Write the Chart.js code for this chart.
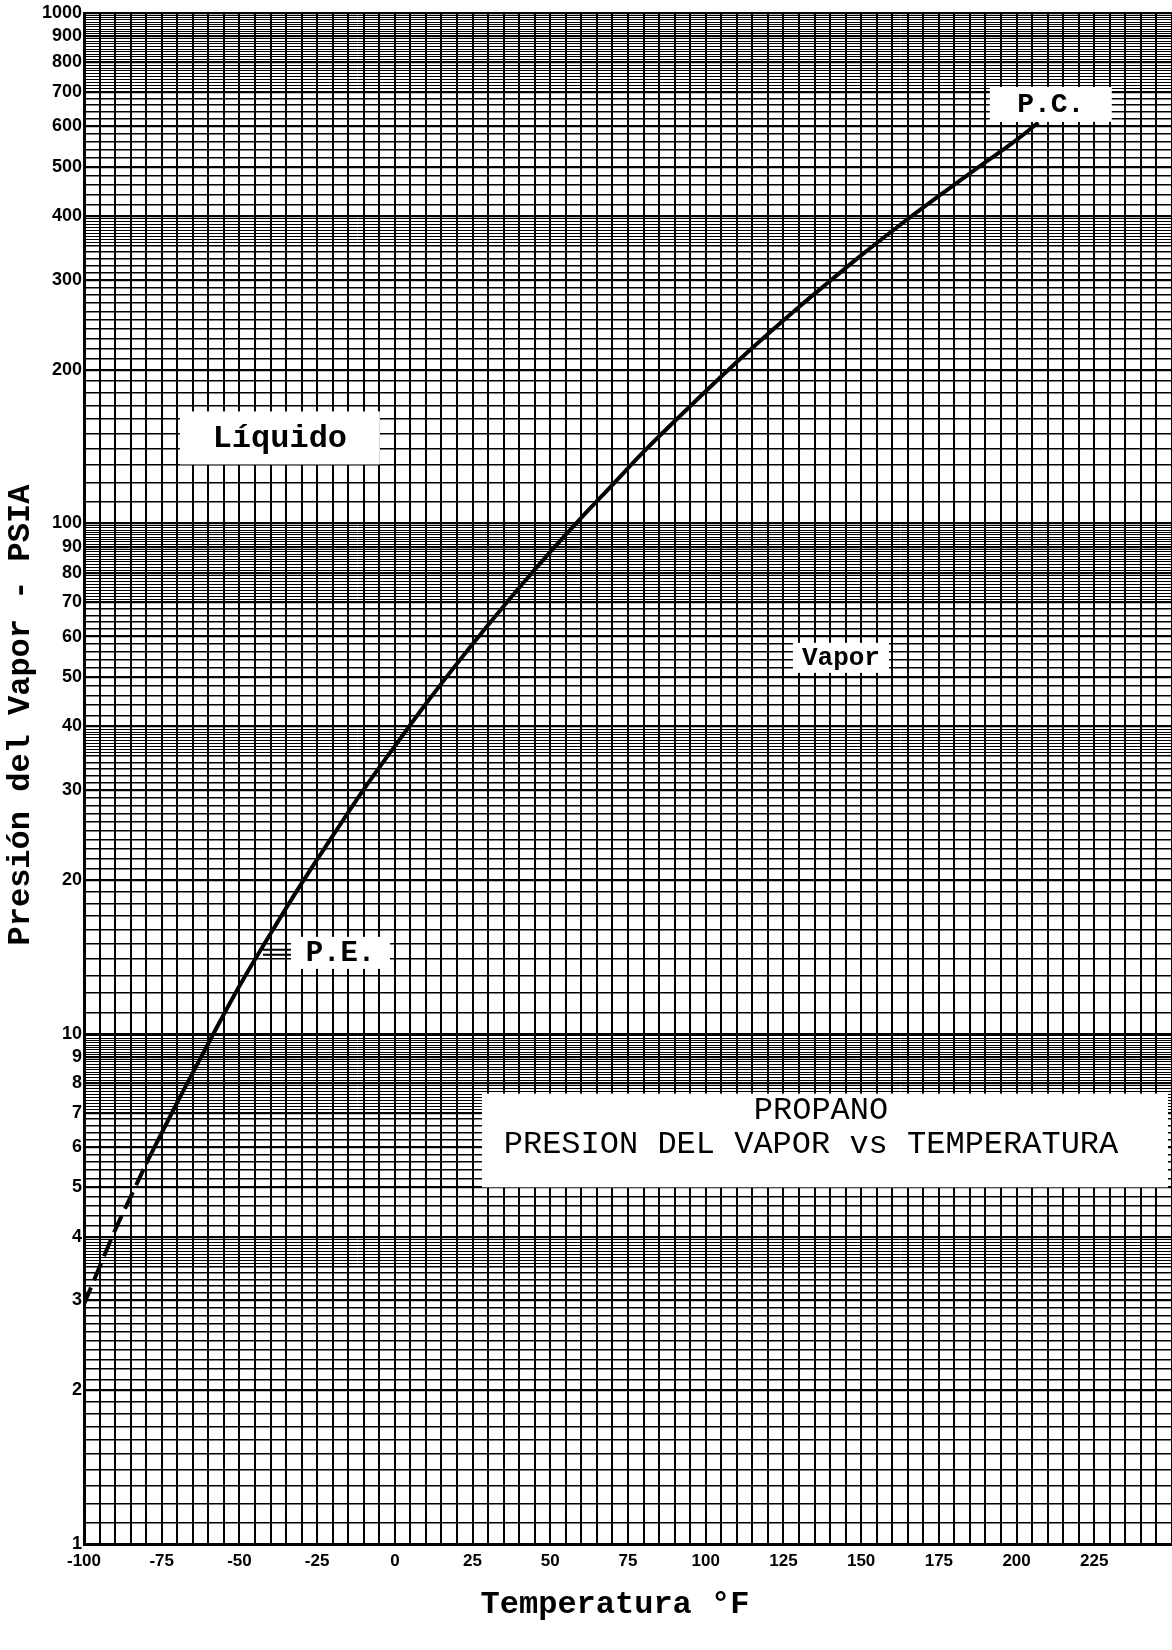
<!DOCTYPE html>
<html>
<head>
<meta charset="utf-8">
<style>
html,body{margin:0;padding:0;background:#fff}
canvas{display:block}
</style>
<script src="https://cdn.jsdelivr.net/npm/chart.js@4.4.1/dist/chart.umd.min.js"></script>
</head>
<body>
<canvas id="c" width="1172" height="1650"></canvas>
<script>
// ---- Data (°F, psia) ----
const tempsSolid = [-80,-70,-60,-50,-40,-30,-20,-10,0,10,20,30,40,50,60,70,80,90,100,110,120,130,140,150,160,170,180,190,200,207];
const pressSolid = [5.56,7.33,9.57,12.4,15.7,19.7,24.4,30.1,36.6,44.3,53.1,63.2,74.8,87.9,102.6,119,138,158.5,181.5,207,235,265.5,298.5,335,374,416,461,510,564,610];
const tempsDashed = [-100,-95,-90,-85,-80];
const pressDashed = [2.95,3.49,4.12,4.79,5.56];

const xTickLabels = [-100,-75,-50,-25,0,25,50,75,100,125,150,175,200,225];
const yTickLabels = [1,2,3,4,5,6,7,8,9,10,20,30,40,50,60,70,80,90,100,200,300,400,500,600,700,800,900,1000];
const xGridValues = [];
for (let t = -100; t <= 250; t += 5) xGridValues.push(t);
// graph-paper subdivisions of each decade: [from, to, step]
const decadeSegments = [[1,3.5,0.1],[3.5,4,0.05],[4,7,0.2],[7,10,0.1]];
const decades = [1,10,100];
const yGridValues = [];
decades.forEach(d => {
  decadeSegments.forEach(([a,b,s]) => {
    const n = Math.round((b-a)/s);
    for (let i = 0; i < n; i++) {
      const m = Math.round((a + i*s)*1000)/1000;
      yGridValues.push(Math.round(m*d*1000)/1000);
    }
  });
});
yGridValues.push(1000);

const toXY = (ts, ps) => ts.map((t,i) => ({x:t, y:ps[i]}));
const mantissa = v => v / Math.pow(10, Math.floor(Math.log10(v) + 1e-9));

const MONO = '"Liberation Mono", "DejaVu Sans Mono", monospace';

const labelBoxes = [
  {text:'P.C.', t:211, p:662, w:122, h:35, font:'bold 28px '+MONO},
  {text:'Líquido', t:-37, p:147, w:200, h:53, font:'bold 32px '+MONO},
  {text:'Vapor', t:143.5, p:54.5, w:96, h:30, font:'bold 26px '+MONO},
  {text:'P.E.', t:-17.5, p:14.4, w:99, h:32, font:'bold 29px '+MONO}
];

const annotPlugin = {
  id: 'annot',
  afterDatasetsDraw(chart) {
    const {ctx, scales:{x, y}, chartArea} = chart;
    ctx.save();
    // P.E. leader lines
    const pe = labelBoxes[3];
    const peY = y.getPixelForValue(pe.p);
    const peX = x.getPixelForValue(pe.t) - pe.w/2;
    ctx.strokeStyle = '#000';
    ctx.lineWidth = 2;
    ctx.beginPath();
    ctx.moveTo(peX - 28, peY - 3); ctx.lineTo(peX, peY - 3);
    ctx.moveTo(peX - 28, peY + 2); ctx.lineTo(peX, peY + 2);
    ctx.stroke();

    labelBoxes.forEach(b => {
      const cx = x.getPixelForValue(b.t);
      const cy = y.getPixelForValue(b.p);
      ctx.fillStyle = '#fff';
      ctx.fillRect(cx - b.w/2, cy - b.h/2, b.w, b.h);
      ctx.fillStyle = '#000';
      ctx.font = b.font;
      ctx.textAlign = 'center';
      ctx.textBaseline = 'middle';
      ctx.fillText(b.text, cx, cy + 1);
    });

    // title box
    const tx0 = x.getPixelForValue(28), tx1 = chartArea.right - 4;
    const ty0 = y.getPixelForValue(7.63), ty1 = y.getPixelForValue(5.0);
    ctx.fillStyle = '#fff';
    ctx.fillRect(tx0, ty0, tx1 - tx0, ty1 - ty0);
    ctx.fillStyle = '#000';
    ctx.font = '32px ' + MONO;
    ctx.textAlign = 'center';
    ctx.textBaseline = 'middle';
    ctx.fillText('PROPANO', 821, ty0 + 17);
    ctx.fillText('PRESION DEL VAPOR vs TEMPERATURA', 811, ty0 + 51);

    // axis titles
    ctx.font = 'bold 32px ' + MONO;
    ctx.fillText('Temperatura °F', 615, 1605);
    ctx.translate(21, 715);
    ctx.rotate(-Math.PI/2);
    ctx.fillText('Presión del Vapor - PSIA', 0, 0);
    ctx.restore();
  }
};

new Chart(document.getElementById('c'), {
  type: 'line',
  data: {
    datasets: [
      {data: toXY(tempsSolid, pressSolid), borderColor:'#000', borderWidth:4, pointRadius:0, tension:0.4, fill:false},
      {data: toXY(tempsDashed, pressDashed), borderColor:'#000', borderWidth:4, pointRadius:0, tension:0.4, fill:false, borderDash:[18,8]}
    ]
  },
  options: {
    responsive: false,
    devicePixelRatio: 1,
    animation: false,
    events: [],
    layout: {padding: {top: 13, right: 0, left: 0, bottom: 0}},
    plugins: {legend: {display: false}, tooltip: {enabled: false}},
    scales: {
      x: {
        type: 'linear', min: -100, max: 250,
        afterBuildTicks: s => { s.ticks = xGridValues.map(v => ({value: v})); },
        afterFit: s => { s.height = 106; },
        grid: {color: '#000', lineWidth: 2, drawTicks: false},
        border: {color: '#000', width: 3},
        ticks: {
          autoSkip: false, maxRotation: 0, minRotation: 0, padding: 0,
          color: '#000', font: {family: '"Liberation Sans", Arial, sans-serif', weight: 'bold', size: 17, lineHeight: 2.0},
          callback: v => xTickLabels.includes(v) ? String(v) : ''
        }
      },
      y: {
        type: 'logarithmic', min: 1, max: 1000,
        afterBuildTicks: s => { s.ticks = yGridValues.map(v => ({value: v})); },
        afterFit: s => { s.width = 84; },
        grid: {
          color: '#000', drawTicks: false,
          lineWidth: c => {
            if (!c.tick) return 1;
            const v = c.tick.value;
            if (yTickLabels.includes(v)) return 2.2;
            const m = mantissa(v);
            return ((m > 3.5 && m < 4) || m > 7) ? 1 : 1.6;
          }
        },
        border: {color: '#000', width: 3},
        ticks: {
          autoSkip: false, padding: 2,
          color: '#000', font: {family: '"Liberation Sans", Arial, sans-serif', weight: 'bold', size: 18},
          callback: v => yTickLabels.includes(v) ? String(v) : ''
        }
      }
    }
  },
  plugins: [annotPlugin]
});
</script>
</body>
</html>
